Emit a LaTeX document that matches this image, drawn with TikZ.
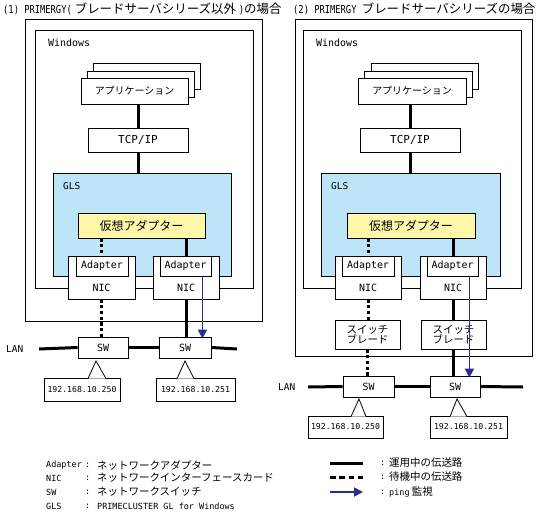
\documentclass[tikz,border=0pt]{standalone}
\usepackage{fontspec}
\setmainfont{Noto Sans CJK JP}
\newfontfamily\lat{DejaVu Sans Mono}
\newfontfamily\latn[FakeStretch=0.8]{DejaVu Sans Mono}
\usetikzlibrary{arrows.meta}
\definecolor{glsblue}{RGB}{189,228,248}
\definecolor{vyellow}{RGB}{255,247,170}
\definecolor{pingblue}{RGB}{45,45,145}
\newcommand\fs[1]{\fontsize{#1}{#1}\selectfont}
\newcommand\rbox[7]{\node[#1,minimum width={(#4-#2)*1bp},minimum height={(#5-#3)*1bp}] (#6) at ({(#2+#4)/2},{(#3+#5)/2}) {#7};}
\begin{document}
\begin{tikzpicture}[x=1bp,y=-1bp,
  frame/.style={draw, line width=0.9bp, fill=white, inner sep=0pt},
  bx/.style={draw, line width=0.8bp, fill=white, inner sep=0pt},
  glsbox/.style={bx, fill=glsblue},
  vabox/.style={bx, fill=vyellow, font=\fs{12}},
  jp/.style={font=\fs{10}},
  bl/.style={font=\fs{10.5}, align=center},
  lt/.style={font=\lat\fs{10}},
  tcpf/.style={font=\lat\fs{11}},
  ipf/.style={font=\lat\fs{8.2}},
  lbl/.style={inner sep=0pt, anchor=west},
  lgl/.style={inner sep=0pt, anchor=west, font=\lat\fs{8.5}},
  lgj/.style={inner sep=0pt, anchor=west, font=\fs{10.5}},
  act/.style={line width=3bp},
  stby/.style={line width=3bp, dash pattern=on 3.3bp off 2.4bp},
  lgstby/.style={line width=3bp, dash pattern=on 5.5bp off 3.8bp},
  ping/.style={draw=pingblue, line width=1.8bp, -{Triangle[length=9bp,width=9bp]}, color=pingblue, shorten >=-2bp},
  lgping/.style={draw=pingblue, line width=1.8bp, -{Triangle[length=9bp,width=9bp]}, color=pingblue},
  callout/.style={draw, line width=0.8bp, fill=white}
]
\fill[white] (0,0) rectangle (538,513);
\useasboundingbox (0,0) rectangle (538,513);

% ---------- titles ----------
\node[lbl] (title1) at (3,9) {{\latn\fs{11}(1) PRIMERGY(}\hspace{3bp}{\fs{12.5}ブレードサーバシリーズ以外}\hspace{3bp}{\latn\fs{11})}{\fs{12.5}の場合}};
\node[lbl] (title2) at (293,9) {{\latn\fs{11}(2) PRIMERGY }{\fs{12.5}ブレードサーバシリーズの場合}};

% ---------- left panel ----------
\rbox{frame}{25}{19}{262}{321}{out1}{}
\rbox{bx}{35}{30}{253}{288}{win1}{}
\node[lbl, font=\lat\fs{10}] (winl1) at (48,43) {Windows};
\rbox{bx}{93}{63}{200}{89}{app1c}{}
\rbox{bx}{87}{71}{194}{97}{app1b}{}
\rbox{bx,jp}{81}{78}{188}{104}{app1}{アプリケーション}
\rbox{bx,tcpf}{88}{128}{188}{152}{tcp1}{TCP/IP}
\draw[act] (tcp1.north |- app1.south) -- (tcp1.north);
\rbox{glsbox}{53}{173}{231}{276}{gls1}{}
\draw[act] (tcp1.south) -- (tcp1.south |- gls1.north);
\node[lbl, font=\lat\fs{9.5}] (glsl1) at (63,186) {GLS};
\rbox{vabox}{78}{213}{205}{238}{va1}{仮想アダプター}
\rbox{bx}{68}{256}{135}{299}{nicA1}{}
\rbox{bx,lt}{76}{256}{128}{276}{adA1}{Adapter}
\node[lt, inner sep=0pt] (nicAl1) at (101.5,288) {NIC};
\rbox{bx}{153}{256}{219}{299}{nicB1}{}
\rbox{bx,lt}{160}{256}{211}{276}{adB1}{Adapter}
\node[lt, inner sep=0pt] (nicBl1) at (186,288) {NIC};
\rbox{bx,lt}{78}{337}{128}{358}{swA1}{SW}
\rbox{bx,lt}{159}{337}{211}{358}{swB1}{SW}
\draw[stby] (va1.south -| nicA1.north) -- (nicA1.north);
\draw[stby] (nicA1.south) -- (nicA1.south |- swA1.north);
\draw[act] (va1.south -| nicB1.north) -- (nicB1.north);
\draw[act] (nicB1.south) -- (nicB1.south |- swB1.north);
\coordinate (p1) at ([xshift=-9bp]adB1.south east);
\draw[ping] (p1) -- (p1 |- swB1.north);
\node[lbl, font=\lat\fs{9.5}] (lan1) at (6,349) {LAN};
\coordinate (lanL1) at (39,349);
\coordinate (lanR1) at (237,349);
\draw[act] (lanL1) -- (swA1.west);
\draw[act] (swA1.east) -- (swB1.west);
\draw[act] (swB1.east) -- (lanR1);
\rbox{bx,ipf}{44}{378}{120}{401}{ipA1}{192.168.10.250}
\rbox{bx,ipf}{156}{378}{235}{401}{ipB1}{192.168.10.251}
\draw[callout] (88,378.6) -- (96,361) -- (106,378.6);
\draw[callout] (177,378.6) -- (185,361) -- (194,378.6);

% ---------- right panel ----------
\rbox{frame}{295}{19}{532}{356}{out2}{}
\rbox{bx}{303}{30}{521}{288}{win2}{}
\node[lbl, font=\lat\fs{10}] (winl2) at (316,43) {Windows};
\rbox{bx}{371}{63}{478}{89}{app2c}{}
\rbox{bx}{364}{71}{472}{97}{app2b}{}
\rbox{bx,jp}{358}{78}{466}{104}{app2}{アプリケーション}
\rbox{bx,tcpf}{360}{128}{460}{152}{tcp2}{TCP/IP}
\draw[act] (tcp2.north |- app2.south) -- (tcp2.north);
\rbox{glsbox}{321}{173}{500}{276}{gls2}{}
\draw[act] (tcp2.south) -- (tcp2.south |- gls2.north);
\node[lbl, font=\lat\fs{9.5}] (glsl2) at (331,186) {GLS};
\rbox{vabox}{347}{213}{475}{238}{va2}{仮想アダプター}
\rbox{bx}{335}{256}{401}{299}{nicA2}{}
\rbox{bx,lt}{342}{256}{394}{276}{adA2}{Adapter}
\node[lt, inner sep=0pt] (nicAl2) at (368,288) {NIC};
\rbox{bx}{420}{256}{486}{299}{nicB2}{}
\rbox{bx,lt}{427}{256}{478}{276}{adB2}{Adapter}
\node[lt, inner sep=0pt] (nicBl2) at (453,288) {NIC};
\rbox{bx,bl}{335}{320}{400}{349}{blA2}{スイッチ\\ブレード}
\rbox{bx,bl}{421}{320}{486}{349}{blB2}{スイッチ\\ブレード}
\rbox{bx,lt}{343}{376}{394}{397}{swA2}{SW}
\rbox{bx,lt}{430}{376}{480}{397}{swB2}{SW}
\draw[stby] (va2.south -| nicA2.north) -- (nicA2.north);
\draw[stby] (nicA2.south) -- (nicA2.south |- blA2.north);
\draw[stby] (blA2.south) -- (blA2.south |- swA2.north);
\draw[act] (va2.south -| nicB2.north) -- (nicB2.north);
\draw[act] (nicB2.south) -- (nicB2.south |- blB2.north);
\draw[act] (blB2.south) -- (blB2.south |- swB2.north);
\coordinate (p2) at ([xshift=-9bp]adB2.south east);
\draw[ping] (p2) -- (p2 |- swB2.north);
\node[lbl, font=\lat\fs{9.5}] (lan2) at (278,387) {LAN};
\coordinate (lanL2) at (308,387);
\coordinate (lanR2) at (523,387);
\draw[act] (lanL2) -- (swA2.west);
\draw[act] (swA2.east) -- (swB2.west);
\draw[act] (swB2.east) -- (lanR2);
\rbox{bx,ipf}{308}{416}{383}{438}{ipA2}{192.168.10.250}
\rbox{bx,ipf}{430}{416}{507}{438}{ipB2}{192.168.10.251}
\draw[callout] (351,416.6) -- (359,399) -- (366,416.6);
\draw[callout] (450,416.6) -- (457,399) -- (467,416.6);

% ---------- legend ----------
\node[lgl] (kA) at (46,465) {Adapter};
\node[lgl] (cA) at (85,465) {:};
\node[lgj] (dA) at (97,465) {ネットワークアダプター};
\node[lgl] (kN) at (46,478) {NIC};
\node[lgl] (cN) at (85,478) {:};
\node[lgj] (dN) at (97,478) {ネットワークインターフェースカード};
\node[lgl] (kS) at (46,492) {SW};
\node[lgl] (cS) at (85,492) {:};
\node[lgj] (dS) at (97,492) {ネットワークスイッチ};
\node[lgl] (kG) at (46,506) {GLS};
\node[lgl] (cG) at (85,506) {:};
\node[lgl] (dG) at (97,506) {PRIMECLUSTER GL for Windows};

\coordinate (la1) at (330,463); \coordinate (lb1) at (363,463);
\coordinate (la2) at (330,477); \coordinate (lb2) at (363,477);
\coordinate (la3) at (330,492); \coordinate (lb3) at (363,492);
\draw[act] (la1) -- (lb1);
\draw[lgstby] (la2) -- (lb2);
\draw[lgping] (la3) -- (lb3);
\node[lgl] (c1) at (380,463) {:};
\node[lgj] (d1) at (389,463) {運用中の伝送路};
\node[lgl] (c2) at (380,477) {:};
\node[lgj] (d2) at (389,477) {待機中の伝送路};
\node[lgl] (c3) at (380,492) {:};
\node[lgj] (d3) at (389,492) {{\lat\fs{8.5}ping} 監視};
\end{tikzpicture}
\end{document}
